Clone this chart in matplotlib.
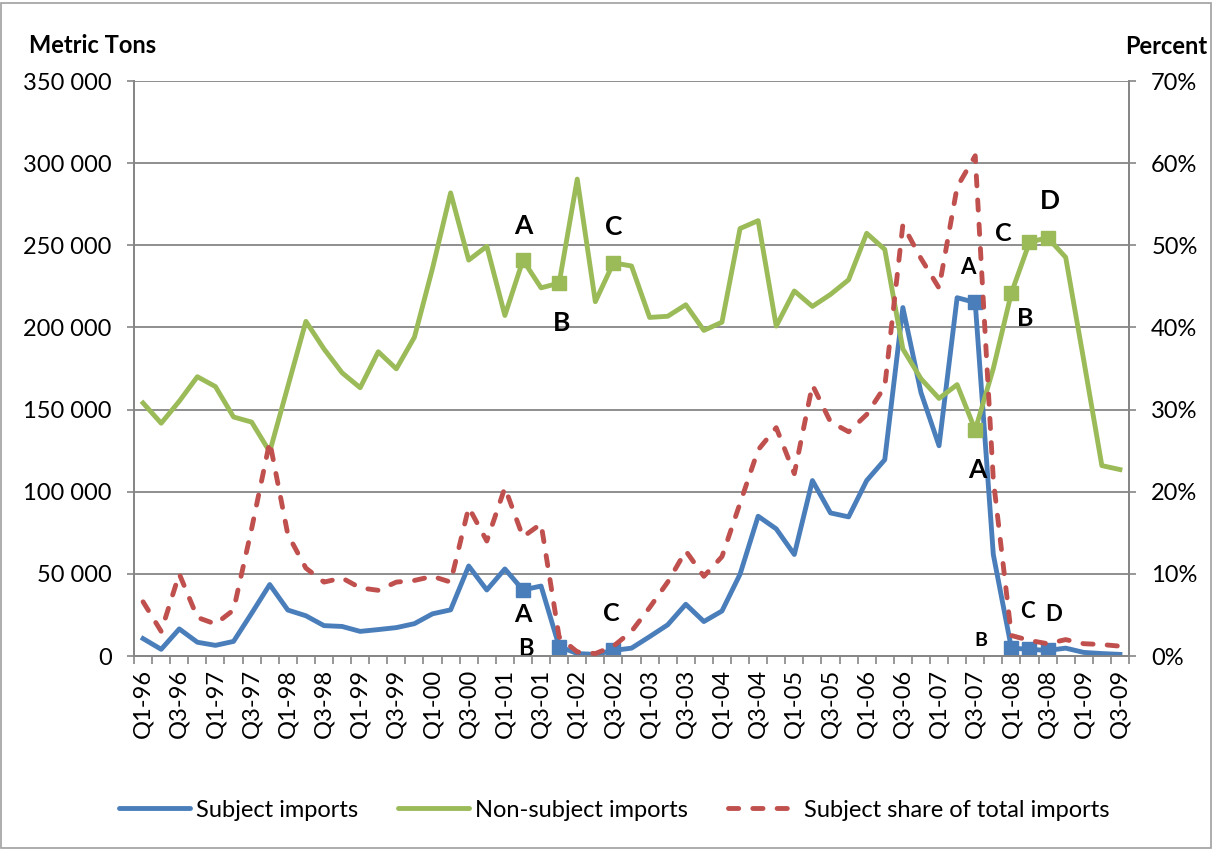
import matplotlib
matplotlib.use("Agg")
import matplotlib.pyplot as plt
from matplotlib.ticker import FuncFormatter, MultipleLocator, FixedLocator
from matplotlib.lines import Line2D
from matplotlib.patches import Rectangle

plt.rcParams["font.family"] = ["Lato", "DejaVu Sans"]

# quarters Q1-96 .. Q3-09
quarters = [f"Q{q}-{y % 100:02d}" for y in range(1996, 2010) for q in range(1, 5)][:55]

subject = [10600, 4100, 16500, 8400, 6500, 8900, 26000, 43500, 28000, 24500,
           18500, 18000, 15000, 16100, 17300, 19700, 25700, 28100, 54800, 40200,
           53000, 40200, 42600, 5800, 1500, 1000, 3400, 4800, 11800, 19000,
           31500, 21000, 27400, 49800, 85100, 77400, 61800, 106800, 87100, 84700,
           106800, 119500, 212100, 160400, 128000, 218100, 215200, 61800, 4800, 4100,
           3400, 4800, 2200, 1500, 1000]

non_subject = [154000, 141700, 155100, 170000, 164000, 145500, 142400, 124300, 164000, 203700,
               186900, 172400, 163300, 185200, 174800, 194100, 236000, 281900, 241000, 249400,
               207300, 241000, 224100, 227000, 290300, 215700, 239300, 237400, 206100, 206800,
               213800, 198200, 203200, 260200, 265000, 200800, 222200, 212800, 220100, 229000,
               257300, 247500, 186900, 168800, 156800, 165200, 137600, 175000, 221000, 251800,
               254700, 242700, 180000, 115900, 113500]

share = [6.6, 3.0, 10.0, 4.7, 3.9, 5.6, 15.5, 26.1, 14.8, 10.7,
         9.0, 9.5, 8.3, 8.0, 9.0, 9.2, 9.7, 9.0, 18.1, 14.0,
         20.5, 14.5, 16.1, 2.3, 0.5, 0.3, 1.2, 3.0, 5.9, 9.0,
         12.8, 9.7, 12.1, 18.6, 25.1, 27.8, 22.2, 33.0, 28.5, 27.3,
         29.4, 32.8, 52.5, 48.4, 44.8, 57.1, 60.9, 21.5, 2.5, 1.9,
         1.5, 2.0, 1.5, 1.4, 1.2]

# labelled points: (quarter index, letter)
marked = [(21, "A"), (23, "B"), (26, "C"), (46, "A"), (48, "B"), (49, "C"), (50, "D")]
# label offsets in pixels and font sizes
green_offsets = [(0, 34, 19), (2, -40, 19), (0, 36, 19), (2, -40, 19), (14, -26, 18), (-26, 9, 18), (2, 37, 19)]
blue_offsets = [(0, -25, 18), (-33, -2, 17), (-2, 37, 18), (-7, 35, 16), (-31, 8, 14), (-2, 38, 16), (6, 36, 16)]

BLUE = "#4A7EBB"
GREEN = "#9BBB59"
RED = "#C0504D"
GRID = "#868686"
DASH = (0, (2.1, 2.9))
LW = 3.5

fig = plt.figure(figsize=(12.12, 8.5), dpi=100)
ax = fig.add_axes([0.1106, 0.2282, 0.8209, 0.6765])
x = list(range(len(quarters)))

ax.plot(x, subject, color=BLUE, lw=LW, solid_joinstyle="round", zorder=3)
ax.plot(x, non_subject, color=GREEN, lw=LW, solid_joinstyle="round", zorder=3)

for (i, letter), (dx, dy, fs) in zip(marked, green_offsets):
    ax.plot(i, non_subject[i], marker="s", ms=10, color=GREEN, zorder=4)
    ax.annotate(letter, (i, non_subject[i]), xytext=(dx, dy), textcoords="offset pixels",
                ha="center", va="center", fontsize=fs, fontweight="bold", zorder=6)
for (i, letter), (dx, dy, fs) in zip(marked, blue_offsets):
    ax.plot(i, subject[i], marker="s", ms=10, color=BLUE, zorder=4)
    ax.annotate(letter, (i, subject[i]), xytext=(dx, dy), textcoords="offset pixels",
                ha="center", va="center", fontsize=fs, fontweight="bold", zorder=6)

ax.set_xlim(-0.5, len(quarters) - 0.5)
ax.set_ylim(0, 350000)
ax.yaxis.set_major_locator(MultipleLocator(50000))
ax.yaxis.set_major_formatter(FuncFormatter(lambda v, p: f"{int(v):,}".replace(",", " ")))
ax.grid(axis="y", color=GRID, lw=1.3)
ax.set_axisbelow(True)

ax.xaxis.set_major_locator(FixedLocator(x[::2]))
ax.set_xticklabels(quarters[::2], rotation=90, fontsize=17)
ax.xaxis.set_minor_locator(FixedLocator([k - 0.5 for k in range(len(quarters) + 1)]))
ax.tick_params(axis="x", which="major", length=0, pad=9)
ax.tick_params(axis="x", which="minor", length=6, color=GRID, width=1.2)
ax.tick_params(axis="y", length=5, color=GRID, width=1.2, labelsize=17, pad=11)

ax2 = ax.twinx()
ax2.plot(x, share, color=RED, lw=LW, ls=DASH, dash_capstyle="round", zorder=3)
ax2.set_ylim(0, 70)
ax2.yaxis.set_major_locator(MultipleLocator(10))
ax2.yaxis.set_major_formatter(FuncFormatter(lambda v, p: f"{int(round(v))}%"))
ax2.tick_params(axis="y", length=5, color=GRID, width=1.2, labelsize=17, pad=11)

for a in (ax, ax2):
    a.spines["top"].set_visible(False)
    for s in ("left", "right", "bottom"):
        a.spines[s].set_color(GRID)
        a.spines[s].set_linewidth(1.3)

fig.text(0.024, 0.947, "Metric Tons", fontsize=17, fontweight="bold", va="center", ha="left")
fig.text(0.996, 0.945, "Percent", fontsize=17, fontweight="bold", va="center", ha="right")

handles = [Line2D([], [], color=BLUE, lw=LW, solid_capstyle="round"),
           Line2D([], [], color=GREEN, lw=LW, solid_capstyle="round"),
           Line2D([], [], color=RED, lw=LW, ls=DASH, dash_capstyle="round")]
fig.legend(handles, ["Subject imports", "Non-subject imports", "Subject share of total imports"],
           loc="center", bbox_to_anchor=(0.507, 0.047), ncol=3, frameon=False, fontsize=17,
           handlelength=3.0, columnspacing=1.7, handletextpad=0.25)

fig.patches.append(Rectangle((0.001, 0.002), 0.998, 0.994, transform=fig.transFigure,
                             fill=False, edgecolor="#A0A0A0", lw=1.2))

fig.savefig("out.png", dpi=100)
